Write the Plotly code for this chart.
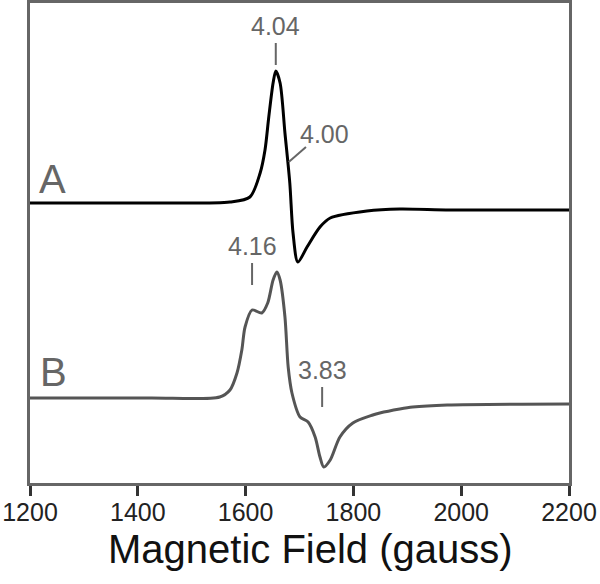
import plotly.graph_objects as go

# spectrum A (derivative signal, arbitrary units, baseline 0)
field_a = [1200, 1423, 1571, 1608, 1627, 1636, 1643, 1651, 1656, 1664, 1673, 1682,
           1688, 1697, 1714, 1738, 1757, 1825, 1886, 1979, 2200]
signal_a = [0, 0, 1, 6, 30, 53, 86, 120, 132, 120, 70, 20,
            -30, -59, -44, -24, -15, -8, -6, -7, -7]

# spectrum B
field_b = [1200, 1423, 1552, 1571, 1584, 1593, 1599, 1612, 1630, 1641, 1651, 1658,
           1664, 1673, 1679, 1686, 1701, 1716, 1729, 1738, 1745, 1757, 1775, 1799,
           1836, 1849, 1886, 1910, 1974, 2200]
signal_b = [0, 0, 1, 8, 25, 48, 71, 88, 85, 95, 118, 126,
            118, 81, 31, 5, -19, -24, -39, -59, -69, -62, -39, -25,
            -17, -15, -11, -9, -7, -6]

offset_a = 280
offset_b = 85

# g-value markers: label, field, tick top, tick bottom
g_labels = ["4.04", "4.16", "3.83"]
g_fields = [1656, 1612, 1742]
g_tick_top = [440, 220, 96]
g_tick_bottom = [418, 198, 76]

GREY = "#666666"
FONT = "Liberation Sans, Arial, sans-serif"

fig = go.Figure()
fig.add_trace(go.Scatter(
    x=field_a, y=[s + offset_a for s in signal_a], mode="lines",
    line=dict(color="#000000", width=3, shape="spline", smoothing=0.8),
    hoverinfo="skip"))
fig.add_trace(go.Scatter(
    x=field_b, y=[s + offset_b for s in signal_b], mode="lines",
    line=dict(color="#555555", width=3, shape="spline", smoothing=0.8),
    hoverinfo="skip"))

for lab, f, t, b in zip(g_labels, g_fields, g_tick_top, g_tick_bottom):
    fig.add_shape(type="line", x0=f, x1=f, y0=b, y1=t,
                  line=dict(color=GREY, width=2))
    fig.add_annotation(x=f, y=t, text=lab, showarrow=False, yanchor="bottom",
                       yshift=1, font=dict(size=25, color=GREY, family=FONT))

# 4.00 shoulder label with slanted leader
fig.add_shape(type="line", x0=1680, x1=1712, y0=321, y1=336,
              line=dict(color=GREY, width=2))
fig.add_annotation(x=1747, y=349, text="4.00", showarrow=False,
                   font=dict(size=25, color=GREY, family=FONT))

fig.add_annotation(x=1241, y=304, text="A", showarrow=False,
                   font=dict(size=40, color=GREY, family=FONT))
fig.add_annotation(x=1243, y=111, text="B", showarrow=False,
                   font=dict(size=40, color=GREY, family=FONT))

# axis title
fig.add_annotation(x=0.5195, y=-0.1375, xref="paper", yref="paper",
                   text="Magnetic Field (gauss)", showarrow=False,
                   xanchor="center", yanchor="middle",
                   font=dict(size=40, color="#111111", family=FONT))

fig.update_layout(
    width=600, height=584,
    margin=dict(l=30, r=31, t=3, b=101, autoexpand=False),
    paper_bgcolor="white", plot_bgcolor="white",
    showlegend=False,
    font=dict(family=FONT),
)
fig.update_xaxes(
    range=[1200, 2200], tickvals=[1200, 1400, 1600, 1800, 2000, 2200],
    showline=True, mirror=True, linecolor=GREY, linewidth=3,
    ticks="outside", ticklen=10, tickwidth=2.5, tickcolor="#333333",
    tickfont=dict(size=25, color="#222222"), ticklabelstandoff=-5,
    showgrid=False, zeroline=False, automargin=False,
)
fig.update_yaxes(
    range=[0, 480], showline=True, mirror=True, linecolor=GREY, linewidth=3,
    showticklabels=False, ticks="", showgrid=False, zeroline=False,
    automargin=False,
)

fig.write_html("out.html", config={"displayModeBar": False},
               post_script="document.body.style.margin='0';")
